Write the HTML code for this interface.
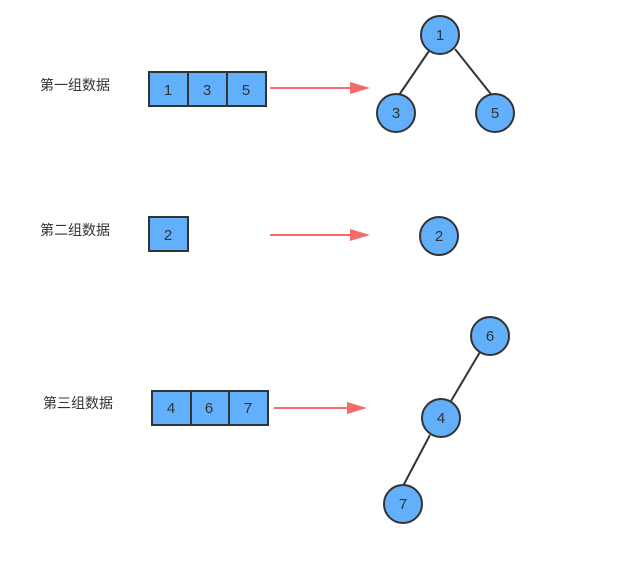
<!DOCTYPE html>
<html><head><meta charset="utf-8"><style>
body{margin:0;background:#fff;width:631px;height:561px;overflow:hidden}
text{font-family:"Liberation Sans","Noto Sans CJK SC",sans-serif;fill:#333}
</style></head><body>
<svg width="631" height="561">
<g>
<text x="40" y="90" font-size="14">第一组数据</text>
<g stroke="#333" stroke-width="2" fill="#62b0fc">
<rect x="149" y="72" width="39" height="34"/><rect x="188" y="72" width="39" height="34"/><rect x="227" y="72" width="39" height="34"/></g>
<g font-size="15" text-anchor="middle"><text x="168" y="95">1</text><text x="207" y="95">3</text><text x="246" y="95">5</text></g>
<line x1="270" y1="88" x2="352" y2="88" stroke="#f56a6a" stroke-width="2"/>
<polygon points="350,82 370,88 350,94" fill="#f56a6a"/>
<g stroke="#333" stroke-width="2"><line x1="429" y1="51" x2="397" y2="98"/><line x1="455" y1="49" x2="494" y2="98"/></g>
<g stroke="#333" stroke-width="2" fill="#62b0fc">
<circle cx="440" cy="35" r="19"/><circle cx="396" cy="113" r="19"/><circle cx="495" cy="113" r="19"/></g>
<g font-size="15" text-anchor="middle"><text x="440" y="40">1</text><text x="396" y="118">3</text><text x="495" y="118">5</text></g>
</g>
<g>
<text x="40" y="235" font-size="14">第二组数据</text>
<rect x="149" y="217" width="39" height="34" stroke="#333" stroke-width="2" fill="#62b0fc"/>
<text x="168" y="240" font-size="15" text-anchor="middle">2</text>
<line x1="270" y1="235" x2="352" y2="235" stroke="#f56a6a" stroke-width="2"/>
<polygon points="350,229 370,235 350,241" fill="#f56a6a"/>
<circle cx="439" cy="236" r="19" stroke="#333" stroke-width="2" fill="#62b0fc"/>
<text x="439" y="241" font-size="15" text-anchor="middle">2</text>
</g>
<g>
<text x="43" y="408" font-size="14">第三组数据</text>
<g stroke="#333" stroke-width="2" fill="#62b0fc">
<rect x="152" y="391" width="39" height="34"/><rect x="191" y="391" width="38" height="34"/><rect x="229" y="391" width="39" height="34"/></g>
<g font-size="15" text-anchor="middle"><text x="171" y="413">4</text><text x="209" y="413">6</text><text x="248" y="413">7</text></g>
<line x1="274" y1="408" x2="350" y2="408" stroke="#f56a6a" stroke-width="2"/>
<polygon points="347,402 367,408 347,414" fill="#f56a6a"/>
<g stroke="#333" stroke-width="2"><line x1="480" y1="352" x2="451" y2="401"/><line x1="430" y1="435" x2="403" y2="486"/></g>
<g stroke="#333" stroke-width="2" fill="#62b0fc">
<circle cx="490" cy="336" r="19"/><circle cx="441" cy="418" r="19"/><circle cx="403" cy="504" r="19"/></g>
<g font-size="15" text-anchor="middle"><text x="490" y="341">6</text><text x="441" y="423">4</text><text x="403" y="509">7</text></g>
</g>
</svg>
</body></html>
